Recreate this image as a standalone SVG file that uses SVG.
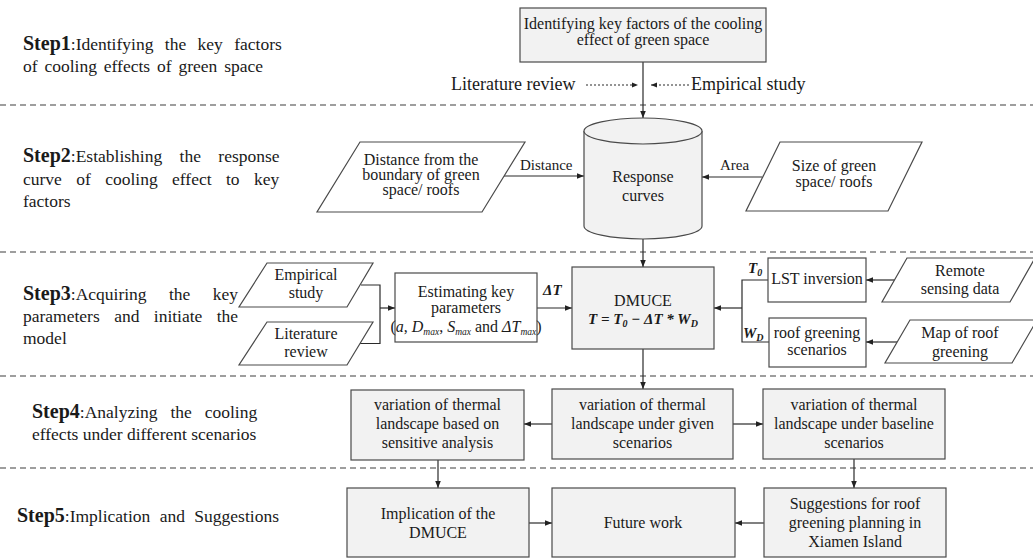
<svg xmlns="http://www.w3.org/2000/svg" width="1033" height="559" viewBox="0 0 1033 559">
<defs>
<marker id="arr" viewBox="0 0 10 10" refX="10" refY="5" markerWidth="7" markerHeight="7" markerUnits="userSpaceOnUse" orient="auto"><path d="M0,1 L10,5 L0,9 z" fill="#222"/></marker>
<marker id="arrs" viewBox="0 0 10 10" refX="10" refY="5" markerWidth="6" markerHeight="6" markerUnits="userSpaceOnUse" orient="auto"><path d="M0,1 L10,5 L0,9 z" fill="#222"/></marker>
</defs>
<style>
text{font-family:"Liberation Serif","Times New Roman",serif;fill:#1a1a1a}
.step{font-size:17.5px}
.stepb{font-weight:bold;font-size:20px}
.n{font-size:16px;text-anchor:middle}
.lbl{font-size:15px}
.math{font-size:15px;font-weight:bold;font-style:italic}
.gbox{fill:#f2f2f2;stroke:#4a4a4a;stroke-width:1.2}
.wbox{fill:#ffffff;stroke:#4a4a4a;stroke-width:1.2}
.dash{stroke:#7f7f7f;stroke-width:1.3;stroke-dasharray:6 4;fill:none}
.c{stroke:#2a2a2a;stroke-width:1.2;fill:none}
.ca{stroke:#2a2a2a;stroke-width:1.2;fill:none;marker-end:url(#arr)}
.cd{stroke:#2a2a2a;stroke-width:1.1;fill:none;stroke-dasharray:2 2;marker-end:url(#arrs)}
</style>
<rect width="1033" height="559" fill="#ffffff"/>

<g id="separators">
<line class="dash" x1="0" y1="105" x2="1033" y2="105"/>
<line class="dash" x1="0" y1="252" x2="1033" y2="252"/>
<line class="dash" x1="0" y1="376" x2="1033" y2="376"/>
<line class="dash" x1="0" y1="468" x2="1033" y2="468"/>
</g>

<g id="step-labels">
<text class="step" x="23" y="50" style="word-spacing:7px"><tspan class="stepb">Step1</tspan>:Identifying the key factors</text>
<text class="step" x="23" y="72" style="word-spacing:2.5px">of cooling effects of green space</text>
<text class="step" x="23" y="162" style="word-spacing:13px"><tspan class="stepb">Step2</tspan>:Establishing the response</text>
<text class="step" x="23" y="185" style="word-spacing:10px">curve of cooling effect to key</text>
<text class="step" x="23" y="207">factors</text>
<text class="step" x="23" y="300" style="word-spacing:18px"><tspan class="stepb">Step3</tspan>:Acquiring the key</text>
<text class="step" x="23" y="322" style="word-spacing:10px">parameters and initiate the</text>
<text class="step" x="23" y="344">model</text>
<text class="step" x="32" y="418" style="word-spacing:8.5px"><tspan class="stepb">Step4</tspan>:Analyzing the cooling</text>
<text class="step" x="32" y="440">effects under different scenarios</text>
<text class="step" x="17" y="522" style="word-spacing:5px"><tspan class="stepb">Step5</tspan>:Implication and Suggestions</text>
</g>

<g id="connectors">
<line class="ca" x1="643" y1="62" x2="643" y2="118"/>
<line class="cd" x1="586" y1="85" x2="638" y2="85"/>
<line class="cd" x1="689" y1="85" x2="651" y2="85"/>
<line class="ca" x1="504" y1="176" x2="584" y2="176"/>
<line class="ca" x1="762" y1="177" x2="702" y2="177"/>
<line class="ca" x1="643" y1="239" x2="643" y2="267"/>
<polyline class="c" points="361,285 380,285 380,343.5 360,343.5"/>
<line class="ca" x1="380" y1="308" x2="395" y2="308"/>
<line class="ca" x1="537" y1="308" x2="572" y2="308"/>
<polyline class="c" points="768,280 742,280 742,342 769,342"/>
<line class="ca" x1="742" y1="308" x2="714" y2="308"/>
<line class="ca" x1="895" y1="280" x2="866" y2="280"/>
<line class="ca" x1="897" y1="342" x2="866" y2="342"/>
<line class="ca" x1="643" y1="349" x2="643" y2="389"/>
<line class="ca" x1="552" y1="424" x2="524" y2="424"/>
<line class="ca" x1="733" y1="424" x2="763" y2="424"/>
<line class="ca" x1="438" y1="460" x2="438" y2="488"/>
<line class="ca" x1="854" y1="459" x2="854" y2="488"/>
<line class="ca" x1="529" y1="523" x2="552" y2="523"/>
<line class="ca" x1="764" y1="523" x2="735" y2="523"/>
<text class="lbl" x="520" y="170">Distance</text>
<text class="lbl" x="720" y="170">Area</text>
<text class="math" x="543" y="295">ΔT</text>
<text class="math" x="748" y="273">T<tspan font-size="10" dy="3">0</tspan></text>
<text class="math" x="743" y="338">W<tspan font-size="10" dy="3">D</tspan></text>
<text x="451" y="90" font-size="18">Literature review</text>
<text x="691" y="90" font-size="18">Empirical study</text>
</g>

<g id="n-identify">
<rect class="gbox" x="520" y="8" width="246" height="54"/>
<text class="n" x="643" y="29" font-size="15.5">Identifying key factors of the cooling</text>
<text class="n" x="643" y="45" font-size="15.5">effect of green space</text>
</g>

<g id="n-distance">
<polygon class="wbox" points="360,142 525,142 482,212 317,212"/>
<text class="n" x="421" y="165" font-size="15">Distance from the</text>
<text class="n" x="421" y="180" font-size="15">boundary of green</text>
<text class="n" x="421" y="195" font-size="15">space/ roofs</text>
</g>

<g id="n-response">
<path class="gbox" d="M584,131 L584,226 A59,13 0 0 0 702,226 L702,131"/>
<ellipse class="gbox" cx="643" cy="131" rx="59" ry="13"/>
<text class="n" x="643" y="182">Response</text>
<text class="n" x="643" y="201">curves</text>
</g>

<g id="n-size">
<polygon class="wbox" points="780,142 922,142 888,211 746,211"/>
<text class="n" x="834" y="171" font-size="15.5">Size of green</text>
<text class="n" x="834" y="187" font-size="15.5">space/ roofs</text>
</g>

<g id="n-empirical">
<polygon class="wbox" points="267,263 373,263 347,307 239,307"/>
<text class="n" x="306" y="280">Empirical</text>
<text class="n" x="306" y="298">study</text>
</g>

<g id="n-literature">
<polygon class="wbox" points="267,322 373,322 347,365 239,365"/>
<text class="n" x="306" y="339">Literature</text>
<text class="n" x="306" y="357">review</text>
</g>

<g id="n-estimating">
<rect class="wbox" x="395" y="273" width="142" height="69"/>
<text class="n" x="466" y="297" font-size="15.5">Estimating key</text>
<text class="n" x="466" y="313" font-size="15.5">parameters</text>
<text class="n" x="466" y="332" font-size="14.5">(<tspan font-style="italic">a</tspan>, <tspan font-style="italic">D</tspan><tspan font-style="italic" font-size="9.5" dy="3">max</tspan><tspan dy="-3">, </tspan><tspan font-style="italic">S</tspan><tspan font-style="italic" font-size="9.5" dy="3">max</tspan><tspan dy="-3"> and </tspan><tspan font-style="italic">ΔT</tspan><tspan font-style="italic" font-size="9.5" dy="3">max</tspan><tspan dy="-3">)</tspan></text>
</g>

<g id="n-dmuce">
<rect class="gbox" x="572" y="267" width="142" height="82"/>
<text class="n" x="643" y="306" font-size="16.5">DMUCE</text>
<text class="math" x="643" y="324" text-anchor="middle">T = T<tspan font-size="10" dy="3">0</tspan><tspan dy="-3"> − ΔT * W</tspan><tspan font-size="10" dy="3">D</tspan></text>
</g>

<g id="n-lst">
<rect class="wbox" x="768" y="258" width="98" height="44"/>
<text class="n" x="817" y="284" font-size="16.5">LST inversion</text>
</g>

<g id="n-roof-scen">
<rect class="wbox" x="769" y="318" width="97" height="49"/>
<text class="n" x="817" y="338" font-size="15.5">roof greening</text>
<text class="n" x="817" y="355" font-size="15.5">scenarios</text>
</g>

<g id="n-remote">
<polygon class="wbox" points="907,258 1035,258 1010,302 882,302"/>
<text class="n" x="960" y="276">Remote</text>
<text class="n" x="960" y="294">sensing data</text>
</g>

<g id="n-map">
<polygon class="wbox" points="910,320 1037,320 1012,363 885,363"/>
<text class="n" x="960" y="338">Map of roof</text>
<text class="n" x="960" y="357">greening</text>
</g>

<g id="n-sensitive">
<rect class="gbox" x="351" y="390" width="173" height="70"/>
<text class="n" x="437.5" y="410">variation of thermal</text>
<text class="n" x="437.5" y="429">landscape based on</text>
<text class="n" x="437.5" y="448">sensitive analysis</text>
</g>

<g id="n-given">
<rect class="gbox" x="552" y="389" width="181" height="70"/>
<text class="n" x="642.5" y="410">variation of thermal</text>
<text class="n" x="642.5" y="429">landscape under given</text>
<text class="n" x="642.5" y="448">scenarios</text>
</g>

<g id="n-baseline">
<rect class="gbox" x="763" y="389" width="182" height="70"/>
<text class="n" x="854" y="410">variation of thermal</text>
<text class="n" x="854" y="429">landscape under baseline</text>
<text class="n" x="854" y="448">scenarios</text>
</g>

<g id="n-implication">
<rect class="gbox" x="347" y="488" width="182" height="69"/>
<text class="n" x="438" y="519">Implication of the</text>
<text class="n" x="438" y="538">DMUCE</text>
</g>

<g id="n-future">
<rect class="gbox" x="552" y="488" width="183" height="69"/>
<text class="n" x="643" y="528">Future work</text>
</g>

<g id="n-suggestions">
<rect class="gbox" x="764" y="488" width="182" height="69"/>
<text class="n" x="855" y="509">Suggestions for roof</text>
<text class="n" x="855" y="528">greening planning in</text>
<text class="n" x="855" y="547">Xiamen Island</text>
</g>
</svg>
